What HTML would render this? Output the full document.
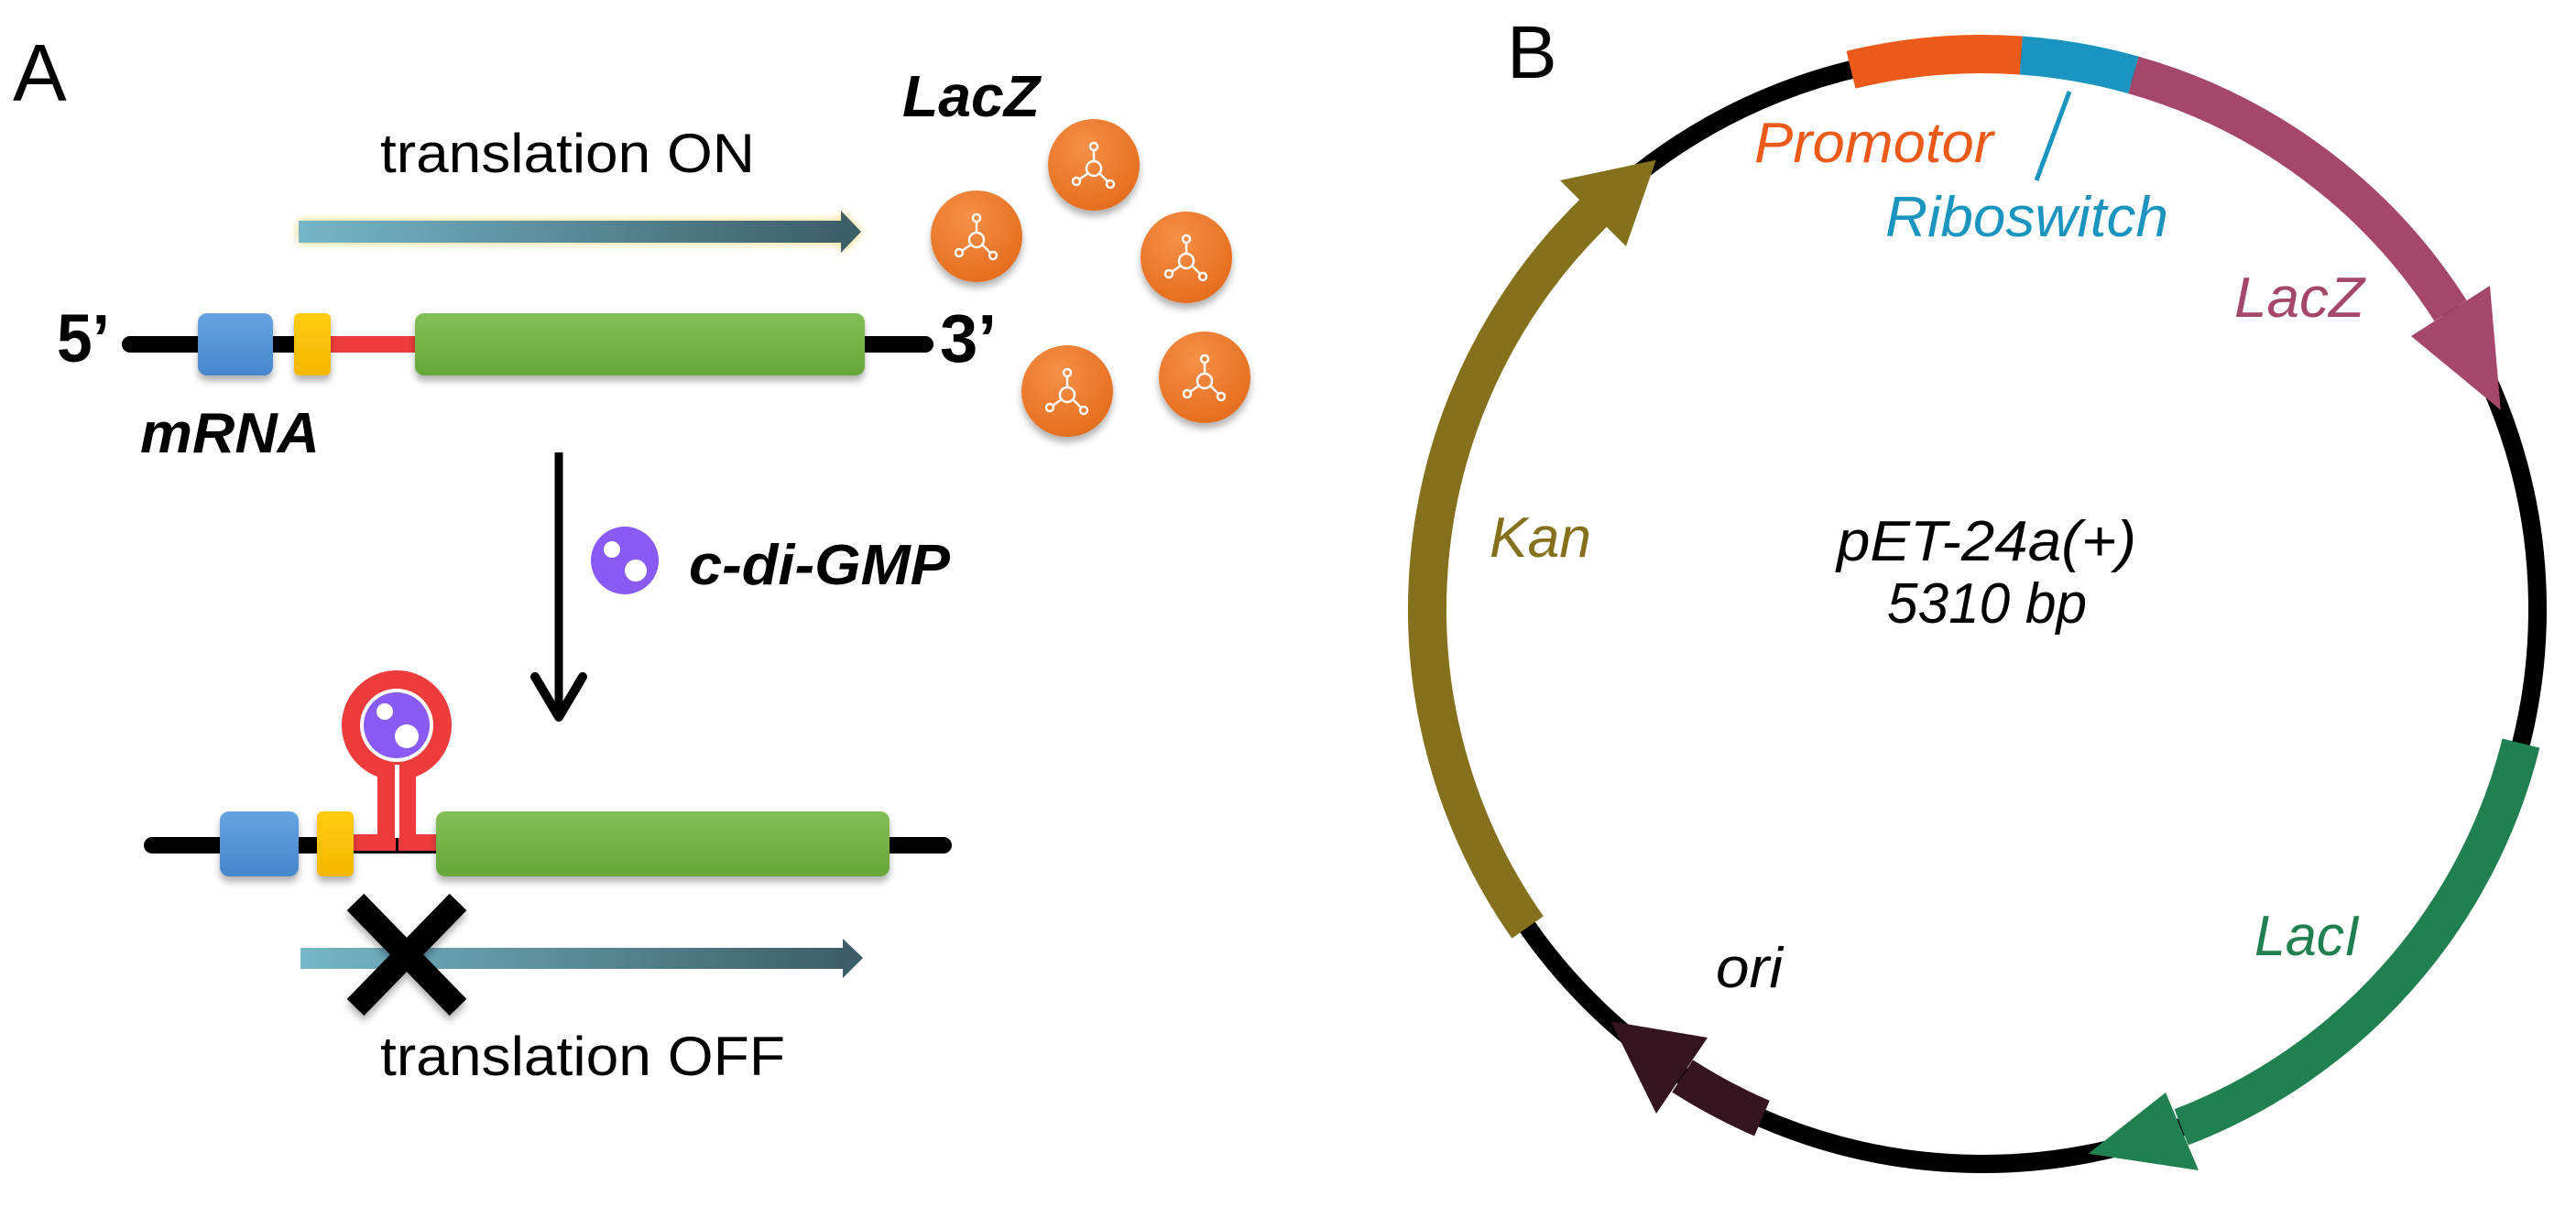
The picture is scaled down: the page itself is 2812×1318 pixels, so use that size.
<!DOCTYPE html>
<html><head><meta charset="utf-8"><style>html,body{margin:0;padding:0;background:#fff}svg{display:block}</style></head>
<body>
<svg width="2812" height="1318" viewBox="0 0 2812 1318" xmlns="http://www.w3.org/2000/svg" font-family="Liberation Sans, Arial, sans-serif">
<defs>
<linearGradient id="arr" x1="0" x2="1" y1="0" y2="0"><stop offset="0" stop-color="#76b6c6"/><stop offset="1" stop-color="#3d5e68"/></linearGradient>
<linearGradient id="grn" x1="0" x2="0" y1="0" y2="1"><stop offset="0" stop-color="#84be58"/><stop offset="1" stop-color="#66a63a"/></linearGradient>
<linearGradient id="blu" x1="0" x2="0" y1="0" y2="1"><stop offset="0" stop-color="#66a3e0"/><stop offset="1" stop-color="#4686cc"/></linearGradient>
<linearGradient id="yel" x1="0" x2="0" y1="0" y2="1"><stop offset="0" stop-color="#ffcc10"/><stop offset="1" stop-color="#f5b800"/></linearGradient>
<radialGradient id="org" cx="0.4" cy="0.3" r="0.75"><stop offset="0" stop-color="#f59048"/><stop offset="1" stop-color="#e46c1c"/></radialGradient>
<filter id="sh" x="-20%" y="-20%" width="140%" height="150%"><feDropShadow dx="0" dy="6" stdDeviation="4" flood-color="#000" flood-opacity="0.3"/></filter>
<filter id="glow" x="-5%" y="-80%" width="110%" height="260%"><feDropShadow dx="0" dy="0" stdDeviation="5" flood-color="#f5d060" flood-opacity="0.9"/></filter>
<g id="mol" fill="none" stroke="#fff" stroke-width="2.5">
<circle cx="0" cy="0" r="8"/><line x1="0" y1="-8" x2="0" y2="-20"/><circle cx="0" cy="-24" r="4"/>
<line x1="-6" y1="5" x2="-16" y2="12"/><circle cx="-19" cy="14" r="4"/>
<line x1="6" y1="5" x2="15" y2="14"/><circle cx="18" cy="17" r="4"/>
</g>
</defs>

<!-- Panel A -->
<text x="14" y="110" font-size="88">A</text>
<text x="415" y="188" font-size="60" textLength="409" lengthAdjust="spacingAndGlyphs">translation ON</text>
<g filter="url(#glow)"><rect x="326" y="241" width="594" height="24" fill="url(#arr)"/><polygon points="918,230 940,253 918,276" fill="#3d5e68"/></g>
<text x="985" y="127" font-size="64" font-weight="bold" font-style="italic" textLength="150" lengthAdjust="spacingAndGlyphs">LacZ</text>

<g filter="url(#sh)">
<circle cx="1066" cy="258" r="50" fill="url(#org)"/><circle cx="1194" cy="180" r="50" fill="url(#org)"/>
<circle cx="1295" cy="281" r="50" fill="url(#org)"/><circle cx="1165" cy="427" r="50" fill="url(#org)"/>
<circle cx="1315" cy="412" r="50" fill="url(#org)"/>
</g>
<use href="#mol" x="1066" y="262"/><use href="#mol" x="1194" y="184"/><use href="#mol" x="1295" y="285"/><use href="#mol" x="1165" y="431"/><use href="#mol" x="1315" y="416"/>

<text x="62" y="395" font-size="74" font-weight="bold" textLength="58" lengthAdjust="spacingAndGlyphs">5’</text>
<line x1="142" y1="376" x2="1010" y2="376" stroke="#000" stroke-width="18" stroke-linecap="round"/>
<line x1="361" y1="376" x2="455" y2="376" stroke="#ee3c3c" stroke-width="18"/>
<g filter="url(#sh)">
<rect x="216" y="342" width="82" height="68" rx="10" fill="url(#blu)"/>
<rect x="321" y="342" width="40" height="68" rx="6" fill="url(#yel)"/>
<rect x="453" y="342" width="491" height="68" rx="10" fill="url(#grn)"/>
</g>
<text x="1026" y="395" font-size="74" font-weight="bold" textLength="62" lengthAdjust="spacingAndGlyphs">3’</text>
<text x="153" y="494" font-size="62" font-weight="bold" font-style="italic" textLength="196" lengthAdjust="spacingAndGlyphs">mRNA</text>

<line x1="610" y1="494" x2="610" y2="782" stroke="#000" stroke-width="9"/>
<polyline points="584,739 610,783 636,739" fill="none" stroke="#000" stroke-width="10" stroke-linecap="round" stroke-linejoin="round"/>
<circle cx="682" cy="612" r="37" fill="#8a5af5"/><circle cx="668" cy="600" r="9" fill="#fff"/><circle cx="694" cy="623" r="12" fill="#fff"/>
<text x="752" y="638" font-size="62" font-weight="bold" font-style="italic" textLength="285" lengthAdjust="spacingAndGlyphs">c-di-GMP</text>

<line x1="166" y1="923" x2="1030" y2="923" stroke="#000" stroke-width="18" stroke-linecap="round"/>
<rect x="386" y="911" width="46" height="18" fill="#ee3c3c"/>
<rect x="435" y="911" width="41" height="18" fill="#ee3c3c"/>
<rect x="412" y="835" width="20" height="94" fill="#ee3c3c"/>
<rect x="435" y="835" width="19" height="94" fill="#ee3c3c"/>
<circle cx="433" cy="792" r="50" fill="#fff" stroke="#ee3c3c" stroke-width="20"/>
<rect x="431" y="835" width="5" height="80" fill="#fff"/>
<circle cx="433" cy="792" r="36" fill="#8a5af5"/><circle cx="420" cy="777" r="9" fill="#fff"/><circle cx="444" cy="804" r="13" fill="#fff"/>
<g filter="url(#sh)">
<rect x="240" y="886" width="86" height="71" rx="10" fill="url(#blu)"/>
<rect x="346" y="886" width="40" height="71" rx="6" fill="url(#yel)"/>
<rect x="476" y="886" width="495" height="71" rx="10" fill="url(#grn)"/>
</g>
<rect x="328" y="1035" width="594" height="23" fill="url(#arr)"/><polygon points="920,1025 942,1046 920,1068" fill="#3d5e68"/>
<g stroke="#000" stroke-width="26" filter="url(#sh)"><line x1="388" y1="985" x2="500" y2="1100"/><line x1="500" y1="985" x2="388" y2="1100"/></g>
<text x="415" y="1174" font-size="60" textLength="442" lengthAdjust="spacingAndGlyphs">translation OFF</text>

<!-- Panel B -->
<text x="1645" y="85" font-size="82">B</text>
<circle cx="2164" cy="665" r="606" fill="none" stroke="#000" stroke-width="20"/>
<g fill="none" stroke-width="42" stroke-linecap="butt">
<path d="M2020.5,76.2 A606,606 0 0 1 2206.3,60.5" stroke="#eb5a19"/>
<path d="M2206.3,60.5 A606,606 0 0 1 2329.0,81.9" stroke="#1b95bf"/>
<path d="M2329.0,81.9 A606,606 0 0 1 2675.1,339.4" stroke="#a5466b"/>
<path d="M2752.0,811.6 A606,606 0 0 1 2381.2,1230.8" stroke="#21804f"/>
<path d="M1923.4,1221.2 A606,606 0 0 1 1836.6,1175.0" stroke="#33141f"/>
<path d="M1667.6,1012.6 A606,606 0 0 1 1739.3,232.7" stroke="#85711d"/>
</g>
<polygon points="2632,367 2718,312 2729.8,447.8" fill="#a5466b"/>
<polygon points="2364,1193 2400,1278 2279.6,1259.8" fill="#21804f"/>
<polygon points="1864,1133 1808,1216 1758.5,1115.3" fill="#33141f"/>
<polygon points="1775,269 1703,197 1807.8,174.7" fill="#85711d"/>
<line x1="2259" y1="100" x2="2223" y2="197" stroke="#1b95bf" stroke-width="5"/>

<g font-size="62" font-style="italic">
<text x="1915" y="177" fill="#eb5a19" textLength="261" lengthAdjust="spacingAndGlyphs">Promotor</text>
<text x="2058" y="258" fill="#1b95bf" textLength="309" lengthAdjust="spacingAndGlyphs">Riboswitch</text>
<text x="2439" y="346" fill="#a5466b" textLength="142" lengthAdjust="spacingAndGlyphs">LacZ</text>
<text x="1626" y="608" fill="#85711d" textLength="111" lengthAdjust="spacingAndGlyphs">Kan</text>
<text x="2461" y="1043" fill="#21804f" textLength="115" lengthAdjust="spacingAndGlyphs">LacI</text>
<text x="1873" y="1078" fill="#000" textLength="73" lengthAdjust="spacingAndGlyphs">ori</text>
<text x="2005" y="612" fill="#000" textLength="327" lengthAdjust="spacingAndGlyphs">pET-24a(+)</text>
<text x="2060" y="680" fill="#000" textLength="218" lengthAdjust="spacingAndGlyphs">5310 bp</text>
</g>
</svg>
</body></html>
